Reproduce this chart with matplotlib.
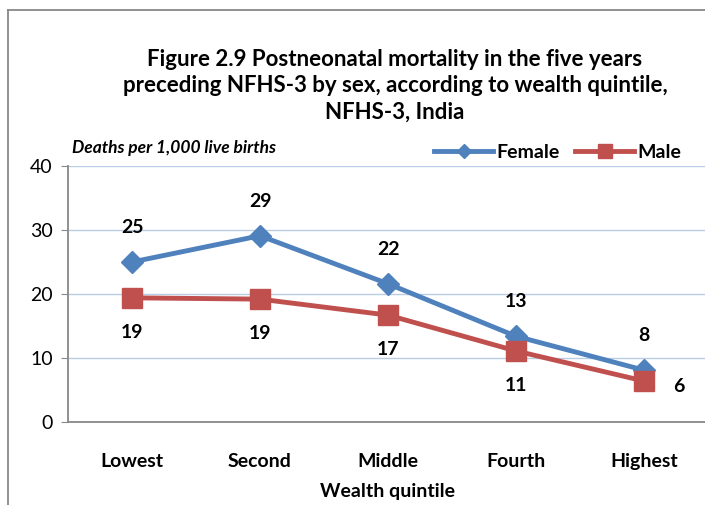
import matplotlib
matplotlib.use("Agg")
import matplotlib.pyplot as plt
from matplotlib.lines import Line2D

plt.rcParams['font.family'] = ['Lato', 'DejaVu Sans']

quintiles = ['Lowest', 'Second', 'Middle', 'Fourth', 'Highest']
female = [25.0, 29.1, 21.6, 13.4, 8.1]
male = [19.4, 19.2, 16.7, 11.1, 6.4]
yticks = [0, 10, 20, 30, 40]

BLUE = '#4f81bd'
RED = '#c0504d'

fig = plt.figure(figsize=(7.05, 5.05), dpi=100)
ax = fig.add_axes([68 / 705, 1 - 422 / 505, 640 / 705, 256 / 505])

x = list(range(len(quintiles)))
ax.plot(x, female, color=BLUE, lw=3.5, marker='D', ms=11, label='Female', zorder=3)
ax.plot(x, male, color=RED, lw=3.5, marker='s', ms=14, label='Male', zorder=3)

# data labels
for i, v in enumerate(female):
    ax.annotate('%d' % round(v), (i, v), xytext=(0, 25), textcoords='offset points',
                ha='center', va='center', fontsize=14, fontweight='bold')
for i, v in enumerate(male):
    if i == len(male) - 1:
        ax.annotate('%d' % round(v), (i, v), xytext=(25, -4), textcoords='offset points',
                    ha='center', va='center', fontsize=14, fontweight='bold')
    else:
        ax.annotate('%d' % round(v), (i, v), xytext=(0, -25), textcoords='offset points',
                    ha='center', va='center', fontsize=14, fontweight='bold')

ax.set_xlim(-0.5, len(quintiles) - 0.5)
ax.set_ylim(0, 40)
ax.set_yticks(yticks)
ax.set_xticks(x)
ax.set_xticklabels(quintiles, fontweight='bold', fontsize=14)
ax.tick_params(axis='y', labelsize=14, length=5, color='#888888', pad=6)
ax.tick_params(axis='x', length=0, pad=22)
ax.grid(axis='y', color='#b9cde5', lw=1)
ax.set_axisbelow(True)
for s in ['top', 'right']:
    ax.spines[s].set_visible(False)
for s in ['left', 'bottom']:
    ax.spines[s].set_color('#888888')
    ax.spines[s].set_linewidth(1.3)

ax.set_xlabel('Wealth quintile', fontweight='bold', fontsize=14, labelpad=10)

fig.text(72 / 705, 1 - 148 / 505, 'Deaths per 1,000 live births', style='italic',
         fontweight='bold', fontsize=12.5, va='center', ha='left')

fig.text(395 / 705, 1 - 86 / 505,
         'Figure 2.9 Postneonatal mortality in the five years\n'
         'preceding NFHS-3 by sex, according to wealth quintile,\n'
         'NFHS-3, India',
         ha='center', va='center', fontsize=16, fontweight='bold', linespacing=1.32)

handles = [Line2D([], [], color=BLUE, lw=3.5, marker='D', ms=7),
           Line2D([], [], color=RED, lw=3.5, marker='s', ms=10)]
leg = fig.legend(handles, ['Female', 'Male'], loc='center', bbox_to_anchor=(558 / 705, 1 - 152 / 505),
                 ncol=2, frameon=True, facecolor='white', edgecolor='none', handlelength=3.0,
                 columnspacing=0.8, handletextpad=0.2, prop={'weight': 'bold', 'size': 14},
                 borderpad=0.2)

# outer chart border (left and top)
fig.add_artist(Line2D([8 / 705, 8 / 705], [0, 1 - 10 / 505], transform=fig.transFigure,
                      color='#888888', lw=1.3))
fig.add_artist(Line2D([8 / 705, 1], [1 - 10 / 505, 1 - 10 / 505], transform=fig.transFigure,
                      color='#888888', lw=1.3))

fig.savefig('out.png', dpi=100)
